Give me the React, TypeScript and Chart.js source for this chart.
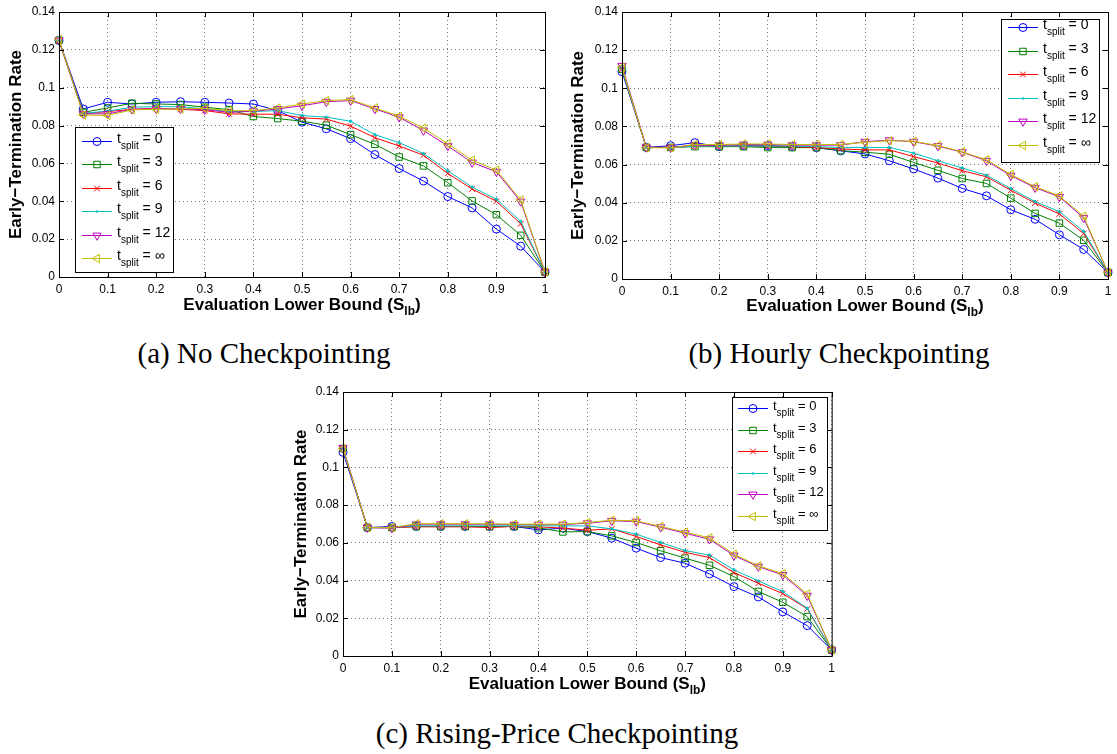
import React, { useEffect, useRef } from "react";
import { Chart, registerables } from "chart.js";

Chart.register(...registerables);

// ---------- data ----------
const S_LB = [0, 0.05, 0.1, 0.15, 0.2, 0.25, 0.3, 0.35, 0.4, 0.45, 0.5, 0.55, 0.6, 0.65, 0.7, 0.75, 0.8, 0.85, 0.9, 0.95, 1];
const X_TICKS = [0, 0.1, 0.2, 0.3, 0.4, 0.5, 0.6, 0.7, 0.8, 0.9, 1];
const Y_TICKS = [0, 0.02, 0.04, 0.06, 0.08, 0.1, 0.12, 0.14];
const T_SPLIT_LABELS = ["0", "3", "6", "9", "12", "\u221e"];

// (a) No Checkpointing
const NO_T0 = [0.125, 0.0888, 0.0923, 0.0914, 0.0923, 0.0926, 0.0923, 0.0919, 0.0914, 0.0879, 0.0818, 0.0783, 0.0731, 0.0647, 0.0573, 0.0507, 0.0425, 0.0365, 0.0253, 0.0163, 0.0026];
const NO_T3 = [0.125, 0.087, 0.0893, 0.0918, 0.0914, 0.0911, 0.0897, 0.0884, 0.0848, 0.0837, 0.0823, 0.0802, 0.0752, 0.0701, 0.0634, 0.0587, 0.0498, 0.0402, 0.0329, 0.022, 0.0026];
const NO_T6 = [0.125, 0.0862, 0.0874, 0.0886, 0.0891, 0.0886, 0.0879, 0.0862, 0.086, 0.086, 0.0841, 0.0834, 0.0797, 0.0736, 0.0692, 0.0643, 0.0547, 0.0465, 0.04, 0.0281, 0.0026];
const NO_T9 = [0.125, 0.0865, 0.0876, 0.0897, 0.09, 0.09, 0.0888, 0.0874, 0.0874, 0.0879, 0.0853, 0.0844, 0.0823, 0.0752, 0.071, 0.0652, 0.0561, 0.0475, 0.0411, 0.0294, 0.0026];
const NO_T12 = [0.125, 0.0862, 0.0862, 0.0886, 0.0889, 0.0888, 0.0884, 0.087, 0.0876, 0.0888, 0.0905, 0.0926, 0.0932, 0.0888, 0.0844, 0.0774, 0.0692, 0.0605, 0.0556, 0.0399, 0.0026];
const NO_TINF = [0.1255, 0.0856, 0.0853, 0.0883, 0.0886, 0.0888, 0.0891, 0.0879, 0.0879, 0.0893, 0.0914, 0.0932, 0.0937, 0.0893, 0.085, 0.0787, 0.0704, 0.0617, 0.0565, 0.0407, 0.0026];

// (b) Hourly Checkpointing
const HR_T0 = [0.1087, 0.069, 0.0699, 0.0715, 0.0694, 0.0699, 0.0699, 0.0694, 0.0689, 0.0672, 0.0656, 0.062, 0.0577, 0.0529, 0.0475, 0.0436, 0.0363, 0.0313, 0.0232, 0.0155, 0.0034];
const HR_T3 = [0.11, 0.069, 0.069, 0.0694, 0.0694, 0.0694, 0.0689, 0.0689, 0.0689, 0.0673, 0.0665, 0.0654, 0.0611, 0.057, 0.0527, 0.0501, 0.0424, 0.0344, 0.0293, 0.0203, 0.0034];
const HR_T6 = [0.11, 0.069, 0.069, 0.0697, 0.0697, 0.0697, 0.0697, 0.0694, 0.0689, 0.0682, 0.0677, 0.0677, 0.0642, 0.0608, 0.0568, 0.0536, 0.0465, 0.0398, 0.0341, 0.0238, 0.0034];
const HR_T9 = [0.11, 0.069, 0.0689, 0.0697, 0.0697, 0.0697, 0.0697, 0.0697, 0.0694, 0.069, 0.069, 0.069, 0.066, 0.062, 0.0582, 0.0544, 0.0474, 0.0406, 0.0353, 0.025, 0.0034];
const HR_T12 = [0.1118, 0.069, 0.069, 0.0702, 0.0702, 0.0705, 0.0705, 0.0702, 0.0702, 0.0702, 0.072, 0.0728, 0.072, 0.0697, 0.0665, 0.062, 0.0542, 0.0479, 0.0431, 0.032, 0.0034];
const HR_TINF = [0.111, 0.0688, 0.0688, 0.0705, 0.0705, 0.0708, 0.0708, 0.0705, 0.0705, 0.0705, 0.0717, 0.0725, 0.0722, 0.07, 0.0667, 0.0625, 0.0548, 0.0484, 0.0436, 0.0329, 0.0034];

// (c) Rising-Price Checkpointing
const RP_T0 = [0.108, 0.0681, 0.0687, 0.0687, 0.0687, 0.0687, 0.0687, 0.0687, 0.0669, 0.0678, 0.066, 0.0625, 0.0572, 0.0522, 0.0492, 0.0435, 0.0368, 0.0313, 0.0234, 0.0161, 0.0032];
const RP_T3 = [0.11, 0.0681, 0.0681, 0.0687, 0.0687, 0.0687, 0.0687, 0.0687, 0.068, 0.0658, 0.066, 0.0637, 0.0602, 0.0558, 0.0519, 0.0481, 0.0421, 0.0342, 0.0285, 0.0209, 0.0032];
const RP_T6 = [0.11, 0.0681, 0.0681, 0.0685, 0.0685, 0.0685, 0.0681, 0.0687, 0.0685, 0.0678, 0.0667, 0.0674, 0.0634, 0.0589, 0.055, 0.0522, 0.0442, 0.0386, 0.0331, 0.025, 0.0032];
const RP_T9 = [0.11, 0.0681, 0.0681, 0.069, 0.069, 0.069, 0.069, 0.069, 0.069, 0.069, 0.069, 0.0674, 0.0646, 0.0602, 0.0559, 0.0535, 0.0457, 0.0398, 0.0342, 0.0253, 0.0032];
const RP_T12 = [0.1103, 0.0681, 0.0678, 0.0699, 0.0699, 0.0699, 0.0699, 0.0697, 0.0697, 0.0697, 0.0704, 0.0717, 0.0713, 0.0683, 0.0651, 0.0619, 0.0533, 0.0474, 0.043, 0.032, 0.0032];
const RP_TINF = [0.11, 0.0681, 0.0681, 0.0701, 0.0701, 0.0701, 0.0701, 0.0699, 0.0699, 0.0699, 0.0708, 0.072, 0.0717, 0.0687, 0.0657, 0.0627, 0.054, 0.0478, 0.0437, 0.0329, 0.0032];

// ---------- styles ----------
const SANS = '"Liberation Sans", Arial, Helvetica, sans-serif';
const SERIF = '"Liberation Serif", "Times New Roman", serif';
const COLORS = ["#0000ff", "#008000", "#ff0000", "#00bfbf", "#bf00bf", "#bfbf00"];
type Mk = "circle" | "square" | "x" | "dot" | "tdown" | "tleft";
const MARKERS: Mk[] = ["circle", "square", "x", "dot", "tdown", "tleft"];

function mkStyle(m: Mk) {
  switch (m) {
    case "circle": return { pointStyle: "circle", pointRadius: 4, pointRotation: 0, fill: false };
    case "square": return { pointStyle: "rect", pointRadius: 4.6, pointRotation: 0, fill: false };
    case "x": return { pointStyle: "crossRot", pointRadius: 4, pointRotation: 0, fill: false };
    case "dot": return { pointStyle: "circle", pointRadius: 1.2, pointRotation: 0, fill: true };
    case "tdown": return { pointStyle: "triangle", pointRadius: 4.8, pointRotation: 180, fill: false };
    case "tleft": return { pointStyle: "triangle", pointRadius: 4.8, pointRotation: -90, fill: false };
  }
}

function drawMarker(ctx: CanvasRenderingContext2D, m: Mk, x: number, y: number, color: string) {
  const st = mkStyle(m)!;
  const r = st.pointRadius;
  ctx.save();
  ctx.strokeStyle = color;
  ctx.fillStyle = color;
  ctx.lineWidth = 1;
  ctx.beginPath();
  if (m === "circle" || m === "dot") {
    ctx.arc(x, y, r, 0, Math.PI * 2);
    if (st.fill) ctx.fill(); else ctx.stroke();
  } else if (m === "square") {
    const s = r * Math.SQRT1_2;
    ctx.rect(x - s, y - s, 2 * s, 2 * s);
    ctx.stroke();
  } else if (m === "x") {
    const s = r * Math.SQRT1_2;
    ctx.moveTo(x - s, y - s); ctx.lineTo(x + s, y + s);
    ctx.moveTo(x + s, y - s); ctx.lineTo(x - s, y + s);
    ctx.stroke();
  } else {
    let a = (st.pointRotation * Math.PI) / 180;
    ctx.moveTo(x + Math.sin(a) * r, y - Math.cos(a) * r);
    a += (2 * Math.PI) / 3;
    ctx.lineTo(x + Math.sin(a) * r, y - Math.cos(a) * r);
    a += (2 * Math.PI) / 3;
    ctx.lineTo(x + Math.sin(a) * r, y - Math.cos(a) * r);
    ctx.closePath();
    ctx.stroke();
  }
  ctx.restore();
}

type PanelCfg = {
  key: string;
  series: number[][];
  x: number; y: number; w: number; h: number;
  area: { l: number; t: number; r: number; b: number };
  yTitleX: number;
  xTitleY: number;
  legend: { x: number; y: number; w: number; h: number; row0: number; step: number; lx0: number; lx1: number; tx: number; fs: number; ss: number };
  caption: string; capX: number; capY: number;
};

const PANELS: PanelCfg[] = [
  {
    key: "a",
    series: [NO_T0, NO_T3, NO_T6, NO_T9, NO_T12, NO_TINF],
    x: 0, y: 0, w: 560, h: 320,
    area: { l: 59, t: 12, r: 545, b: 277 },
    yTitleX: 16, xTitleY: 304,
    legend: { x: 75, y: 127, w: 98, h: 145, row0: 141, step: 23.4, lx0: 82, lx1: 112, tx: 117, fs: 14, ss: 10 },
    caption: "(a) No Checkpointing", capX: 264, capY: 353,
  },
  {
    key: "b",
    series: [HR_T0, HR_T3, HR_T6, HR_T9, HR_T12, HR_TINF],
    x: 560, y: 0, w: 557, h: 320,
    area: { l: 62, t: 12, r: 548, b: 279 },
    yTitleX: 18, xTitleY: 305,
    legend: { x: 441, y: 19, w: 98, h: 143, row0: 27, step: 23.6, lx0: 448, lx1: 478, tx: 483, fs: 14, ss: 10 },
    caption: "(b) Hourly Checkpointing", capX: 839, capY: 353,
  },
  {
    key: "c",
    series: [RP_T0, RP_T3, RP_T6, RP_T9, RP_T12, RP_TINF],
    x: 280, y: 380, w: 560, h: 320,
    area: { l: 63, t: 12, r: 552, b: 276 },
    yTitleX: 21, xTitleY: 303,
    legend: { x: 452, y: 17, w: 95, h: 133, row0: 28, step: 21.6, lx0: 458, lx1: 488, tx: 493, fs: 13, ss: 10 },
    caption: "(c) Rising-Price Checkpointing", capX: 557, capY: 733,
  },
];

function fmt(v: number) {
  return String(Number(v.toFixed(2)));
}

function makeDecor(p: PanelCfg) {
  return {
    id: "decor" + p.key,
    afterDraw(chart: any) {
      const ctx: CanvasRenderingContext2D = chart.ctx;
      const { left, right, top, bottom } = chart.chartArea;
      const xs = chart.scales.x;
      const ys = chart.scales.y;
      ctx.save();
      ctx.strokeStyle = "#000";
      ctx.lineWidth = 1;
      // inward ticks
      ctx.beginPath();
      for (const v of X_TICKS) {
        const px = Math.round(xs.getPixelForValue(v)) + 0.5;
        ctx.moveTo(px, bottom); ctx.lineTo(px, bottom - 5);
        ctx.moveTo(px, top); ctx.lineTo(px, top + 5);
      }
      for (const v of Y_TICKS) {
        const py = Math.round(ys.getPixelForValue(v)) + 0.5;
        ctx.moveTo(left, py); ctx.lineTo(left + 5, py);
        ctx.moveTo(right, py); ctx.lineTo(right - 5, py);
      }
      ctx.stroke();
      // box
      ctx.strokeRect(left + 0.5, top + 0.5, right - left, bottom - top);

      // y title
      ctx.save();
      ctx.translate(p.yTitleX, (top + bottom) / 2);
      ctx.rotate(-Math.PI / 2);
      ctx.fillStyle = "#000";
      ctx.font = `bold 17px ${SANS}`;
      ctx.textAlign = "center";
      ctx.textBaseline = "middle";
      ctx.fillText("Early\u2212Termination Rate", 0, 0);
      ctx.restore();

      // x title with subscript
      const main = "Evaluation Lower Bound (S";
      const sub = "lb";
      const tail = ")";
      ctx.fillStyle = "#000";
      ctx.textAlign = "left";
      ctx.textBaseline = "alphabetic";
      ctx.font = `bold 17px ${SANS}`;
      const w1 = ctx.measureText(main).width;
      const w3 = ctx.measureText(tail).width;
      ctx.font = `bold 12px ${SANS}`;
      const w2 = ctx.measureText(sub).width;
      const x0 = (left + right) / 2 - (w1 + w2 + w3) / 2;
      const base = p.xTitleY + 6;
      ctx.font = `bold 17px ${SANS}`;
      ctx.fillText(main, x0, base);
      ctx.font = `bold 12px ${SANS}`;
      ctx.fillText(sub, x0 + w1, base + 5);
      ctx.font = `bold 17px ${SANS}`;
      ctx.fillText(tail, x0 + w1 + w2, base);

      // legend
      const L = p.legend;
      ctx.fillStyle = "#fff";
      ctx.fillRect(L.x, L.y, L.w, L.h);
      ctx.strokeStyle = "#000";
      ctx.lineWidth = 1;
      ctx.strokeRect(L.x + 0.5, L.y + 0.5, L.w, L.h);
      for (let i = 0; i < T_SPLIT_LABELS.length; i++) {
        const y = L.row0 + i * L.step;
        ctx.strokeStyle = COLORS[i];
        ctx.lineWidth = 1;
        ctx.beginPath();
        ctx.moveTo(L.lx0, Math.round(y) + 0.5);
        ctx.lineTo(L.lx1, Math.round(y) + 0.5);
        ctx.stroke();
        drawMarker(ctx, MARKERS[i], (L.lx0 + L.lx1) / 2, Math.round(y) + 0.5, COLORS[i]);
        ctx.fillStyle = "#000";
        ctx.font = `${L.fs}px ${SANS}`;
        ctx.fillText("t", L.tx, y + 2);
        const wt = ctx.measureText("t").width;
        ctx.font = `${L.ss}px ${SANS}`;
        ctx.fillText("split", L.tx + wt, y + 8);
        const ws = ctx.measureText("split").width;
        ctx.font = `${L.fs}px ${SANS}`;
        ctx.fillText(" = " + T_SPLIT_LABELS[i], L.tx + wt + ws, y + 2);
      }
      ctx.restore();
    },
  };
}

function Panel({ p }: { p: PanelCfg }) {
  const ref = useRef<HTMLCanvasElement>(null);
  useEffect(() => {
    const canvas = ref.current!;
    const datasets = p.series.map((ys, i) => {
      const st = mkStyle(MARKERS[i])!;
      return {
        label: "t_split = " + T_SPLIT_LABELS[i],
        data: ys.map((v, j) => ({ x: S_LB[j], y: v })),
        borderColor: COLORS[i],
        backgroundColor: COLORS[i],
        borderWidth: 1,
        pointStyle: st.pointStyle,
        pointRadius: st.pointRadius,
        pointRotation: st.pointRotation,
        pointBorderWidth: 1,
        pointBorderColor: COLORS[i],
        pointBackgroundColor: st.fill ? COLORS[i] : "rgba(0,0,0,0)",
        tension: 0,
        clip: false as any,
        order: T_SPLIT_LABELS.length - i,
      };
    });
    const A = p.area;
    const chart = new Chart(canvas, {
      type: "line",
      data: { datasets } as any,
      options: {
        animation: false,
        responsive: false,
        devicePixelRatio: 1,
        layout: { padding: { left: 0, top: A.t, right: p.w - A.r, bottom: 0 } },
        plugins: { legend: { display: false }, tooltip: { enabled: false } },
        scales: {
          x: {
            type: "linear",
            min: 0,
            max: 1,
            afterFit: (s: any) => { s.height = p.h - A.b; },
            afterBuildTicks: (s: any) => { s.ticks = X_TICKS.map((v) => ({ value: v })); },
            ticks: { color: "#000", font: { family: SANS, size: 12 }, padding: 5, maxRotation: 0, autoSkip: false, callback: (v: any) => fmt(Number(v)) },
            grid: { color: "rgba(0,0,0,0.55)", lineWidth: 1, drawTicks: false },
            border: { display: false, dash: [1, 3] },
          },
          y: {
            type: "linear",
            min: 0,
            max: 0.14,
            afterFit: (s: any) => { s.width = A.l; },
            afterBuildTicks: (s: any) => { s.ticks = Y_TICKS.map((v) => ({ value: v })); },
            ticks: { color: "#000", font: { family: SANS, size: 12 }, padding: 4, autoSkip: false, callback: (v: any) => fmt(Number(v)) },
            grid: { color: "rgba(0,0,0,0.55)", lineWidth: 1, drawTicks: false },
            border: { display: false, dash: [1, 3] },
          },
        },
      } as any,
      plugins: [makeDecor(p)],
    });
    return () => chart.destroy();
  }, [p]);
  return (
    <canvas
      ref={ref}
      width={p.w}
      height={p.h}
      style={{ position: "absolute", left: p.x, top: p.y, width: p.w, height: p.h }}
    />
  );
}

export default function App() {
  return (
    <div style={{ position: "absolute", left: 0, top: 0, width: 1117, height: 754, background: "#fff", overflow: "hidden" }}>
      {PANELS.map((p) => (
        <Panel key={p.key} p={p} />
      ))}
      {PANELS.map((p) => (
        <div
          key={"cap" + p.key}
          style={{
            position: "absolute",
            left: p.capX,
            top: p.capY,
            transform: "translate(-50%, -50%)",
            fontFamily: SERIF,
            fontSize: 29,
            whiteSpace: "nowrap",
            color: "#000",
            lineHeight: 1,
          }}
        >
          {p.caption}
        </div>
      ))}
    </div>
  );
}
